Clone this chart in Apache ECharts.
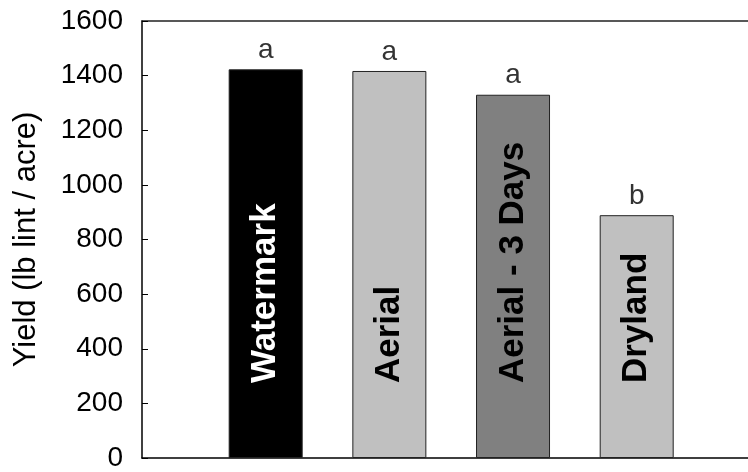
<!DOCTYPE html>
<html>
<head>
<meta charset="utf-8">
<script src="https://cdn.jsdelivr.net/npm/echarts@6/dist/echarts.min.js"></script>
<style>html,body{margin:0;padding:0;background:#fff}#c{width:748px;height:472px}</style>
</head>
<body>
<div id="c"></div>
<script>
const categories = ['Watermark', 'Aerial', 'Aerial - 3 Days', 'Dryland'];
const yields = [1423, 1417, 1330, 889];
const letters = ['a', 'a', 'a', 'b'];
const barColors = ['#000000', '#c0c0c0', '#808080', '#c0c0c0'];
const labelColors = ['#ffffff', '#000000', '#000000', '#000000'];
const yTicks = [0, 200, 400, 600, 800, 1000, 1200, 1400, 1600];

const FONT = "'Liberation Sans', Arial, sans-serif";
const chart = echarts.init(document.getElementById('c'), null, {renderer: 'canvas'});

const barData = yields.map((v, i) => ({
  value: [i + 1, v],
  itemStyle: {color: barColors[i], borderColor: '#222', borderWidth: 1},
  label: {color: labelColors[i]}
}));
const letterData = yields.map((v, i) => ({value: [i + 1, v], name: letters[i]}));

const X_MAX = 4.9;
chart.setOption({
  animation: false,
  grid: {left: 142, right: 0, top: 21, bottom: 12, show: false},
  xAxis: [{
    type: 'value', min: 0, max: X_MAX, position: 'bottom',
    axisLine: {show: true, lineStyle: {color: '#000', width: 1.5}},
    axisTick: {show: false}, axisLabel: {show: false}, splitLine: {show: false}
  }, {
    type: 'value', min: 0, max: X_MAX, position: 'top',
    axisLine: {show: true, lineStyle: {color: '#222', width: 1.5}},
    axisTick: {show: false}, axisLabel: {show: false}, splitLine: {show: false}
  }],
  yAxis: {
    type: 'value', min: yTicks[0], max: yTicks[yTicks.length - 1], interval: yTicks[1] - yTicks[0],
    name: 'Yield (lb lint / acre)', nameLocation: 'middle', nameGap: 100,
    nameTextStyle: {fontFamily: FONT, fontSize: 31, color: '#000'},
    axisLine: {show: true, lineStyle: {color: '#000', width: 1.5}},
    axisTick: {show: true, inside: true, length: 6, lineStyle: {color: '#000', width: 1}},
    axisLabel: {fontFamily: FONT, fontSize: 28, color: '#000', margin: 19, formatter: v => String(v)},
    splitLine: {show: false}
  },
  series: [
    {
      type: 'bar', barWidth: 74, data: barData, xAxisIndex: 0,
      label: {
        show: true, position: 'insideBottom', distance: 75, rotate: 90,
        align: 'left', verticalAlign: 'middle',
        fontFamily: FONT, fontSize: 35, fontWeight: 'bold',
        formatter: p => categories[p.dataIndex]
      }
    },
    {
      type: 'scatter', symbolSize: 0, data: letterData, xAxisIndex: 0,
      label: {
        show: true, position: 'top', distance: 5,
        fontFamily: FONT, fontSize: 28, color: '#000',
        formatter: p => letters[p.dataIndex]
      }
    }
  ]
});
</script>
</body>
</html>
